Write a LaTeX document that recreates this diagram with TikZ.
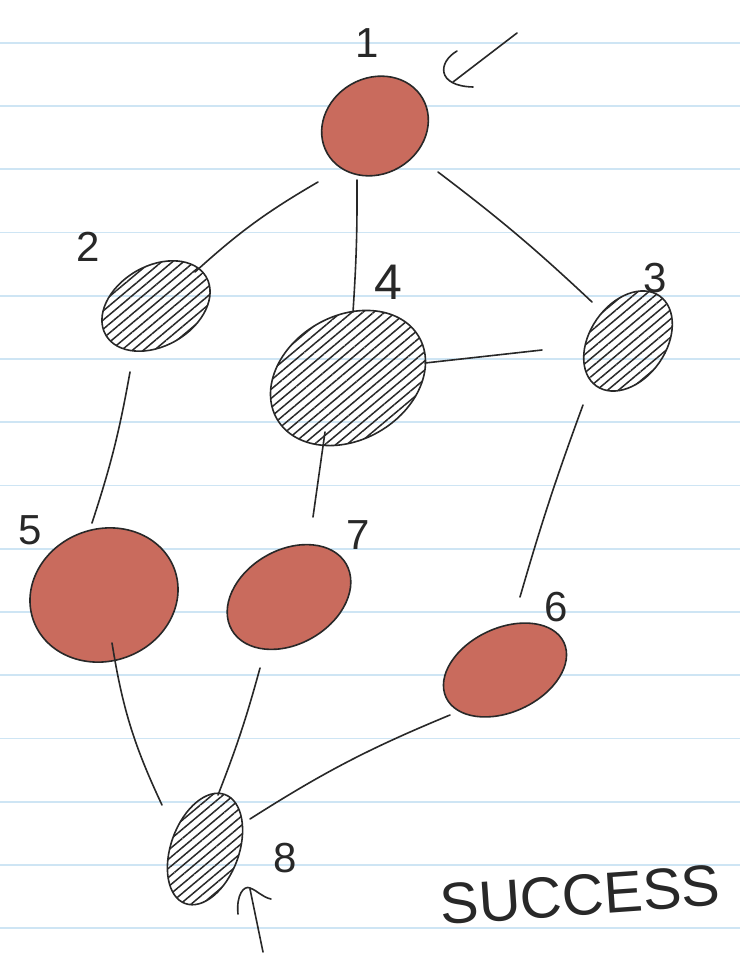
\documentclass[tikz,border=0pt]{standalone}
\usepackage{fontspec}
\setmainfont{Liberation Sans}
\usetikzlibrary{shapes.geometric,patterns.meta,calc}
\definecolor{ruleblue}{RGB}{206,229,244}
\definecolor{ink}{RGB}{40,40,40}
\definecolor{redfill}{RGB}{201,107,93}
\begin{document}
\begin{tikzpicture}[x=1pt,y=-1pt,
  rule/.style={ruleblue,line width=1.8pt},
  vert/.style={ellipse,draw=ink,line width=1.6pt,inner sep=0pt},
  redv/.style={vert,fill=redfill},
  hatchv/.style={vert,pattern={Lines[angle=40,distance=7pt,line width=1.5pt]},pattern color=ink},
  edge/.style={ink,line width=1.6pt,line cap=round},
  lbl/.style={font=\fontsize{42}{42}\selectfont,text=ink,inner sep=0pt},
]
\useasboundingbox (0,0) rectangle (740,964);
\fill[white] (0,0) rectangle (740,964);
\foreach \k in {0,...,14}{
  \pgfmathsetmacro{\yy}{42.7+63.25*\k}
  \draw[rule] (0,\yy) -- (740,\yy);
}

% vertices
\node[redv,  minimum width=110pt, minimum height=96pt,  rotate=30] (n1) at (375,126) {};
\node[hatchv,minimum width=116pt, minimum height=80pt,  rotate=30] (n2) at (156,306) {};
\node[hatchv,minimum width=164pt, minimum height=124pt, rotate=30] (n4) at (348,378) {};
\node[hatchv,minimum width=110pt, minimum height=76pt,  rotate=55] (n3) at (628,341) {};
\node[redv,  minimum width=150pt, minimum height=132pt, rotate=20] (n5) at (104,595) {};
\node[redv,  minimum width=132pt, minimum height=94pt,  rotate=30] (n7) at (289,597) {};
\node[redv,  minimum width=130pt, minimum height=84pt,  rotate=25] (n6) at (505,670) {};
\node[hatchv,minimum width=116pt, minimum height=68pt,  rotate=70] (n8) at (205,849) {};

% labels
\node[lbl] (l1) at (367,43) {1};
\node[lbl] (l2) at (88,247) {2};
\node[lbl,font=\fontsize{50}{50}\selectfont] (l4) at (388,282) {4};
\node[lbl] (l3) at (655,278) {3};
\node[lbl] (l5) at (30,530) {5};
\node[lbl] (l7) at (358,535) {7};
\node[lbl] (l6) at (556,607) {6};
\node[lbl] (l8) at (285,858) {8};
\node[font=\fontsize{58}{58}\selectfont,text=ink,inner sep=0pt,rotate=4] (succ) at (580,895) {SUCCESS};

% edges
\draw[edge] ($(n1)+(-57,56)$) to[bend right=6] ($(n2)+(39,-34)$);
\draw[edge] ($(n1)+(-18,54)$) to[bend left=2] ($(n4)+(5,-66)$);
\draw[edge] ($(n1)+(63,46)$) to[bend left=3] ($(n3)+(-36,-39)$);
\draw[edge] ($(n4)+(77,-15)$) -- ($(n3)+(-86,9)$);
\draw[edge] ($(n2)+(-26,66)$) to[bend left=4] ($(n5)+(-12,-72)$);
\draw[edge] ($(n4)+(-23,54)$) -- ($(n7)+(24,-80)$);
\draw[edge] ($(n3)+(-45,64)$) to[bend right=2] ($(n6)+(15,-73)$);
\draw[edge] ($(n5)+(8,48)$) to[bend right=8] ($(n8)+(-43,-44)$);
\draw[edge] ($(n7)+(-29,71)$) to[bend left=3] ($(n8)+(13,-54)$);
\draw[edge] ($(n6)+(-55,45)$) to[bend right=5] ($(n8)+(45,-30)$);

% entry arrow (top)
\coordinate (inS) at (517,33);
\coordinate (inE) at (453,82);
\draw[edge] (inS) -- (inE);
\draw[edge] ($(inE)+(4,-31)$) .. controls ($(inE)+(-15,-20)$) and ($(inE)+(-17,4)$) .. ($(inE)+(20,5)$);

% exit arrow (bottom)
\coordinate (outS) at (263,952);
\coordinate (outE) at (250,889);
\draw[edge] (outS) -- (outE);
\draw[edge] ($(outE)+(-12,25)$) .. controls ($(outE)+(-14,6)$) and ($(outE)+(-6,-4)$) .. ($(outE)+(0,-1)$) .. controls ($(outE)+(8,2)$) and ($(outE)+(12,8)$) .. ($(outE)+(21,10)$);
\end{tikzpicture}
\end{document}
